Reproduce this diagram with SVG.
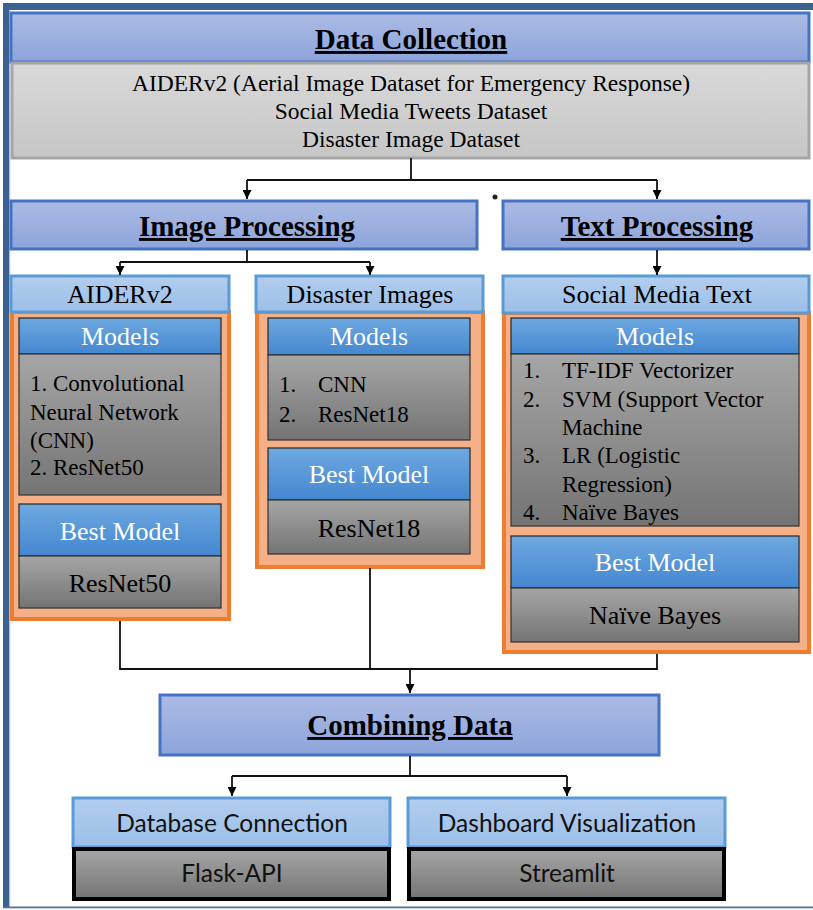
<svg xmlns="http://www.w3.org/2000/svg" width="813" height="910" viewBox="0 0 813 910">
<defs>
<linearGradient id="gTitle" x1="0" y1="0" x2="0" y2="1"><stop offset="0" stop-color="#abbbe4"/><stop offset="1" stop-color="#8da4da"/></linearGradient>
<linearGradient id="gData" x1="0" y1="0" x2="0" y2="1"><stop offset="0" stop-color="#d9d9d9"/><stop offset="1" stop-color="#c6c6c6"/></linearGradient>
<linearGradient id="gHead" x1="0" y1="0" x2="0" y2="1"><stop offset="0" stop-color="#b2cdee"/><stop offset="1" stop-color="#9cbfe8"/></linearGradient>
<linearGradient id="gBlue" x1="0" y1="0" x2="0" y2="1"><stop offset="0" stop-color="#6ea8e0"/><stop offset="1" stop-color="#4487cf"/></linearGradient>
<linearGradient id="gGray" x1="0" y1="0" x2="0" y2="1"><stop offset="0" stop-color="#a6a6a6"/><stop offset="1" stop-color="#747474"/></linearGradient>
<marker id="arr" viewBox="0 0 10 10" refX="10" refY="5" markerWidth="9" markerHeight="9" markerUnits="userSpaceOnUse" orient="auto"><path d="M0,0 L10,5 L0,10 z" fill="#000"/></marker>
<style>
.title{fill:url(#gTitle);stroke:#4472c4;stroke-width:3}
.data{fill:url(#gData);stroke:#a5a5a5;stroke-width:3}
.head{fill:url(#gHead);stroke:#5b9bd5;stroke-width:3}
.orange{fill:#f5b088;stroke:#ed7d31;stroke-width:4}
.blue{fill:url(#gBlue);stroke:#262626;stroke-width:1.2}
.gray{fill:url(#gGray);stroke:#333;stroke-width:1.2}
.gbox{fill:url(#gGray);stroke:#000;stroke-width:4}
text{font-family:'Liberation Serif',Tinos,'Times New Roman','Nimbus Roman',FreeSerif,Times,serif;fill:#000}
.tt{font-weight:bold;font-size:29px;text-decoration:underline;text-anchor:middle}
.dl{font-size:23.5px;text-anchor:middle}
.ch{font-size:26px;text-anchor:middle}
.wl{font-size:26px;fill:#fff;text-anchor:middle}
.bl{font-size:26px;text-anchor:middle}
.li{font-size:23px}
text.sans{font-family:Lato,'Open Sans',sans-serif;font-size:24.5px;fill:#111;text-anchor:middle}
.con{fill:none;stroke:#111;stroke-width:1.8}
</style>
</defs>
<rect x="0" y="0" width="813" height="910" fill="#fff"/>
<g id="frame">
<rect x="3" y="3" width="810" height="7" fill="#3c6294"/>
<rect x="3" y="3" width="6" height="905" fill="#3c6294"/>
<rect x="9" y="10" width="1.2" height="898" fill="#a9c0de"/>
<rect x="3" y="906.5" width="810" height="1.8" fill="#4f6f98"/>
</g>
<g id="data-collection">
<rect class="title" x="11" y="13" width="798" height="49"/>
<text class="tt" x="411" y="49">Data Collection</text>
<rect class="data" x="12" y="63" width="797" height="95"/>
<text class="dl" x="411" y="91">AIDERv2 (Aerial Image Dataset for Emergency Response)</text>
<text class="dl" x="411" y="119">Social Media Tweets Dataset</text>
<text class="dl" x="411" y="147">Disaster Image Dataset</text>
</g>
<g id="image-processing">
<rect class="title" x="11" y="201" width="466" height="48"/>
<text class="tt" x="247" y="236">Image Processing</text>
</g>
<g id="text-processing">
<rect class="title" x="503" y="201" width="306" height="48"/>
<text class="tt" x="657" y="236">Text Processing</text>
</g>
<circle id="dot" cx="495" cy="197" r="2.5" fill="#222"/>
<g id="aiderv2">
<rect class="orange" x="12" y="312" width="217" height="307"/>
<rect class="head" x="11" y="276" width="218" height="36"/>
<text class="ch" x="120" y="303">AIDERv2</text>
<rect class="blue" x="19" y="318" width="202" height="36"/>
<text class="wl" x="120" y="345">Models</text>
<rect class="gray" x="19" y="354" width="202" height="141"/>
<text class="li" x="30" y="391">1. Convolutional</text>
<text class="li" x="30" y="420">Neural Network</text>
<text class="li" x="30" y="448">(CNN)</text>
<text class="li" x="30" y="475">2. ResNet50</text>
<rect class="blue" x="19" y="504" width="202" height="52"/>
<text class="wl" x="120" y="540">Best Model</text>
<rect class="gray" x="19" y="556" width="202" height="52"/>
<text class="bl" x="120" y="592">ResNet50</text>
</g>
<g id="disaster-images">
<rect class="orange" x="257" y="312" width="226" height="255"/>
<rect class="head" x="256" y="276" width="227" height="36"/>
<text class="ch" x="370" y="303">Disaster Images</text>
<rect class="blue" x="268" y="318" width="202" height="37"/>
<text class="wl" x="369" y="345">Models</text>
<rect class="gray" x="268" y="355" width="202" height="85"/>
<text class="li" x="279" y="392">1.</text>
<text class="li" x="318" y="392">CNN</text>
<text class="li" x="279" y="422">2.</text>
<text class="li" x="318" y="422">ResNet18</text>
<rect class="blue" x="268" y="448" width="202" height="52"/>
<text class="wl" x="369" y="483">Best Model</text>
<rect class="gray" x="268" y="500" width="202" height="54"/>
<text class="bl" x="369" y="537">ResNet18</text>
</g>
<g id="social-media-text">
<rect class="orange" x="504" y="313" width="305" height="339"/>
<rect class="head" x="503" y="276" width="306" height="37"/>
<text class="ch" x="657" y="303">Social Media Text</text>
<rect class="blue" x="511" y="318" width="288" height="36"/>
<text class="wl" x="655" y="345">Models</text>
<rect class="gray" x="511" y="354" width="288" height="172"/>
<text class="li" x="523" y="378">1.</text>
<text class="li" x="562" y="378">TF-IDF Vectorizer</text>
<text class="li" x="523" y="407">2.</text>
<text class="li" x="562" y="407">SVM (Support Vector</text>
<text class="li" x="562" y="435">Machine</text>
<text class="li" x="523" y="463">3.</text>
<text class="li" x="562" y="463">LR (Logistic</text>
<text class="li" x="562" y="492">Regression)</text>
<text class="li" x="523" y="520">4.</text>
<text class="li" x="562" y="520">Naïve Bayes</text>
<rect class="blue" x="511" y="536" width="288" height="52"/>
<text class="wl" x="655" y="571">Best Model</text>
<rect class="gray" x="511" y="588" width="288" height="54"/>
<text class="bl" x="655" y="624">Naïve Bayes</text>
</g>
<g id="combining-data">
<rect class="title" x="160" y="695" width="499" height="60"/>
<text class="tt" x="410" y="735">Combining Data</text>
</g>
<g id="database-connection">
<rect class="head" x="73" y="798" width="317" height="49"/>
<text class="sans" x="232" y="832">Database Connection</text>
<rect class="gbox" x="74" y="849" width="315" height="50"/>
<text class="sans" x="232" y="882">Flask-API</text>
</g>
<g id="dashboard-visualization">
<rect class="head" x="408" y="798" width="317" height="49"/>
<text class="sans" x="567" y="832">Dashboard Visualization</text>
<rect class="gbox" x="409" y="849" width="315" height="50"/>
<text class="sans" x="567" y="882">Streamlit</text>
</g>
<g id="connectors">
<path class="con" d="M411,158 V180 M247,180 H657"/>
<path class="con" d="M247,180 V199" marker-end="url(#arr)"/>
<path class="con" d="M657,180 V199" marker-end="url(#arr)"/>
<path class="con" d="M247,250 V262 M120,262 H370"/>
<path class="con" d="M120,262 V275" marker-end="url(#arr)"/>
<path class="con" d="M370,262 V275" marker-end="url(#arr)"/>
<path class="con" d="M657,250 V275" marker-end="url(#arr)"/>
<path class="con" d="M120,621 V669 H657 V654 M370,568 V669"/>
<path class="con" d="M410,669 V693" marker-end="url(#arr)"/>
<path class="con" d="M410,756 V776 M232,776 H567"/>
<path class="con" d="M232,776 V796" marker-end="url(#arr)"/>
<path class="con" d="M567,776 V796" marker-end="url(#arr)"/>
</g>
</svg>
